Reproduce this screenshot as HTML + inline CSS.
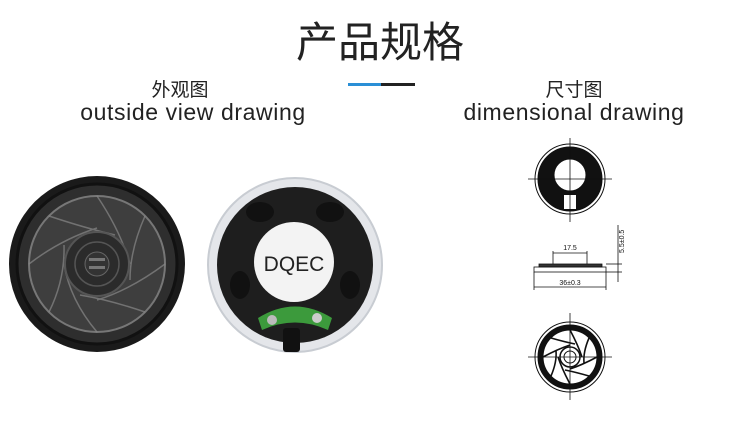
<!DOCTYPE html>
<html><head><meta charset="utf-8"><style>
body{margin:0;width:730px;height:418px;background:#fff;overflow:hidden;font-family:"Liberation Sans","Noto Sans CJK SC",sans-serif;}
</style></head><body>
<svg width="730" height="418" xmlns="http://www.w3.org/2000/svg" font-family="Liberation Sans, Noto Sans CJK SC, sans-serif">
<text x="380" y="57" font-size="42" text-anchor="middle" fill="#222" font-family="Noto Sans CJK SC, sans-serif">产品规格</text>
<rect x="348" y="83" width="33" height="3" fill="#2a8fd6"/>
<rect x="381" y="83" width="34" height="3" fill="#222"/>
<text x="180" y="96" font-size="19" text-anchor="middle" fill="#222" font-family="Noto Sans CJK SC, sans-serif">外观图</text>
<text x="193" y="120" font-size="23" text-anchor="middle" fill="#222" letter-spacing="0.6">outside view drawing</text>
<text x="574" y="96" font-size="19" text-anchor="middle" fill="#222" font-family="Noto Sans CJK SC, sans-serif">尺寸图</text>
<text x="574" y="120" font-size="23" text-anchor="middle" fill="#222" letter-spacing="0.6">dimensional drawing</text>

<!-- black speaker -->
<circle cx="97" cy="264" r="88" fill="#1a1a1a"/>
<circle cx="97" cy="264" r="80" fill="#2e2e2e" stroke="#111" stroke-width="3"/>
<circle cx="97" cy="264" r="68" fill="#3e3e3e" stroke="#777" stroke-width="2"/>
<g stroke="#888" stroke-width="1.5" opacity="0.7" fill="none">
<path d="M97 196 Q120 230 130 264"/><path d="M165 264 Q130 290 97 300"/><path d="M97 332 Q70 300 64 264"/><path d="M29 264 Q60 240 97 228"/>
<path d="M145 216 Q130 250 130 280"/><path d="M145 312 Q110 300 80 295"/><path d="M49 312 Q65 280 64 245"/><path d="M49 216 Q85 228 115 235"/>
</g>
<circle cx="97" cy="264" r="32" fill="#2b2b2b" stroke="#555" stroke-width="2"/>
<circle cx="97" cy="264" r="22" fill="none" stroke="#555" stroke-width="1.5"/>
<circle cx="97" cy="264" r="12" fill="#333" stroke="#666"/>
<rect x="89" y="258" width="16" height="3" fill="#777"/><rect x="89" y="266" width="16" height="3" fill="#777"/>

<!-- second speaker -->
<circle cx="295" cy="265" r="87" fill="#e4e6ea" stroke="#c8ccd2" stroke-width="2"/>
<circle cx="295" cy="265" r="78" fill="#1e1e1e"/>
<g fill="#111">
<ellipse cx="260" cy="212" rx="14" ry="10"/><ellipse cx="330" cy="212" rx="14" ry="10"/><ellipse cx="240" cy="285" rx="10" ry="14"/><ellipse cx="350" cy="285" rx="10" ry="14"/>
</g>
<circle cx="294" cy="262" r="40" fill="#f3f3f3"/>
<text x="294" y="271" font-size="21" text-anchor="middle" fill="#222">DQEC</text>
<path d="M258 318 Q295 295 332 318 L328 330 Q295 315 262 330 Z" fill="#3c9a3c"/>
<circle cx="272" cy="320" r="5" fill="#bbb"/><circle cx="317" cy="318" r="5" fill="#ccc"/>
<rect x="283" y="328" width="17" height="24" rx="3" fill="#111"/>

<!-- dimension drawing top -->
<g stroke="#111" fill="none">
<circle cx="570" cy="179" r="35" stroke-width="1"/>
<circle cx="570" cy="179" r="32" fill="#111"/>
<circle cx="570" cy="175" r="16" fill="#fff"/>
<rect x="564" y="195" width="12" height="14" fill="#fff" stroke="none"/>
<line x1="528" y1="179" x2="612" y2="179" stroke-width="0.8"/>
<line x1="570" y1="138" x2="570" y2="222" stroke-width="0.8"/>
</g>
<!-- side view -->
<g stroke="#111" fill="none" stroke-width="0.8">
<rect x="539" y="264" width="63" height="3" fill="#333"/>
<rect x="534" y="267" width="72" height="5"/>
<line x1="553" y1="251" x2="553" y2="264"/><line x1="587" y1="251" x2="587" y2="264"/>
<line x1="553" y1="253" x2="587" y2="253"/>
<line x1="534" y1="272" x2="534" y2="290"/><line x1="606" y1="272" x2="606" y2="290"/>
<line x1="534" y1="287" x2="606" y2="287"/>
<line x1="618" y1="225" x2="618" y2="282"/>
<line x1="606" y1="264" x2="622" y2="264"/><line x1="606" y1="272" x2="622" y2="272"/>
</g>
<text x="570" y="250" font-size="7" text-anchor="middle" fill="#111">17.5</text>
<text x="570" y="285" font-size="7" text-anchor="middle" fill="#111">36±0.3</text>
<text x="0" y="0" font-size="7" fill="#111" transform="translate(624,253) rotate(-90)">5.5±0.5</text>
<!-- bottom -->
<g stroke="#111" fill="none">
<circle cx="570" cy="357" r="35" stroke-width="1"/>
<circle cx="570" cy="357" r="32" fill="#111"/>
<circle cx="570" cy="357" r="27" fill="#fff"/>
<g stroke-width="1.6">
<path d="M570 330 Q578 345 582 357"/><path d="M597 357 Q582 365 570 369"/><path d="M570 384 Q562 369 558 357"/><path d="M543 357 Q558 349 570 345"/>
<path d="M589 338 Q583 352 584 363"/><path d="M589 376 Q575 372 565 370"/><path d="M551 376 Q557 362 556 351"/><path d="M551 338 Q565 342 575 344"/>
</g>
<circle cx="570" cy="357" r="10" fill="#fff" stroke-width="1.5"/>
<circle cx="570" cy="357" r="6"/>
<line x1="528" y1="357" x2="612" y2="357" stroke-width="0.8"/>
<line x1="570" y1="313" x2="570" y2="400" stroke-width="0.8"/>
</g>
</svg>
</body></html>
